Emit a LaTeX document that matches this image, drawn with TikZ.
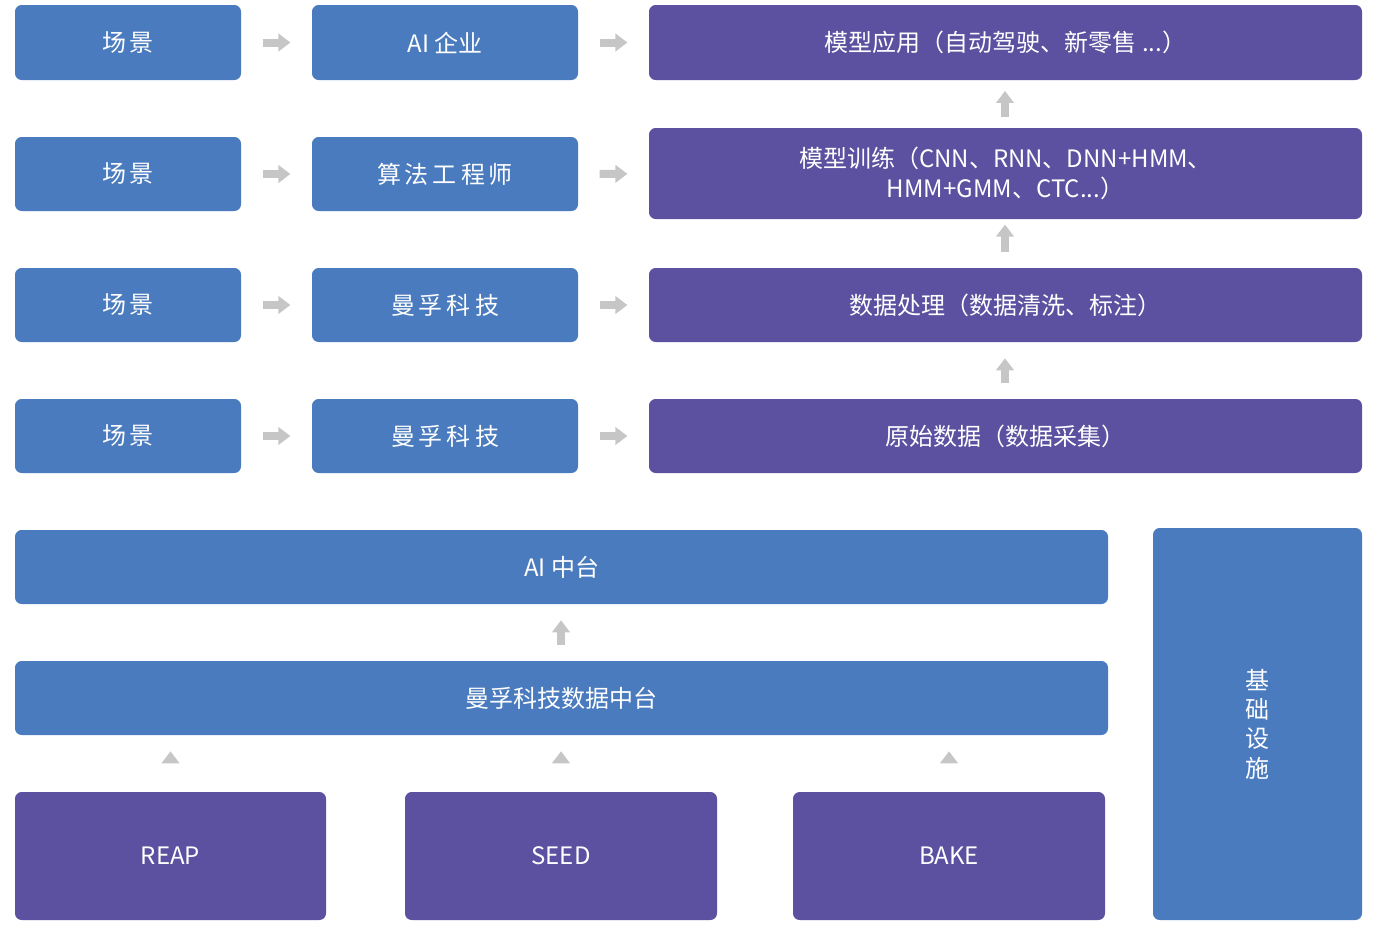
\documentclass[tikz,border=0pt]{standalone}
\usepackage{fontspec}
\setmainfont{Noto Sans CJK SC}
\usetikzlibrary{arrows.meta}
\definecolor{bl}{HTML}{4A7BBE}
\definecolor{pu}{HTML}{5B51A0}
\begin{document}
\begin{tikzpicture}[x=0.75pt,y=-0.75pt,
 bx/.style={draw=none,fill=#1,rounded corners=5pt,text=white,font=\fontsize{18}{22}\selectfont,align=center,inner sep=0pt},
 ar/.style={draw=gray!45,line width=6pt,-{Triangle[length=9pt,width=13pt]}}]
\useasboundingbox (0,0) rectangle (1378,932);
\newcommand{\bxx}[6]{\node[bx=#6,minimum width=(#3-#2)*0.75pt,minimum height=(#5-#4)*0.75pt] (#1) at ({(#2+#3)/2},{(#4+#5)/2}) {};}
\bxx{a1}{15}{241}{5}{80}{bl}\bxx{b1}{312}{578}{5}{80}{bl}\bxx{c1}{649}{1362}{5}{80}{pu}
\bxx{a2}{15}{241}{137}{211}{bl}\bxx{b2}{312}{578}{137}{211}{bl}\bxx{c2}{649}{1362}{128}{219}{pu}
\bxx{a3}{15}{241}{268}{342}{bl}\bxx{b3}{312}{578}{268}{342}{bl}\bxx{c3}{649}{1362}{268}{342}{pu}
\bxx{a4}{15}{241}{399}{473}{bl}\bxx{b4}{312}{578}{399}{473}{bl}\bxx{c4}{649}{1362}{399}{473}{pu}
\bxx{ai}{15}{1108}{530}{604}{bl}\bxx{dt}{15}{1108}{661}{735}{bl}
\bxx{r}{15}{326}{792}{920}{pu}\bxx{s}{405}{717}{792}{920}{pu}\bxx{k}{793}{1105}{792}{920}{pu}
\bxx{j}{1153}{1362}{528}{920}{bl}
\foreach \i in {1,...,4}{\node[text=white,font=\fontsize{18}{22}\selectfont] at (a\i) {场\,景};}
\node[text=white,font=\fontsize{18}{22}\selectfont] at (b1) {AI 企业};
\node[text=white,font=\fontsize{18}{22}\selectfont] at (b2) {算\,法\,工\,程\,师};
\node[text=white,font=\fontsize{18}{22}\selectfont] at (b3) {曼\,孚\,科\,技};
\node[text=white,font=\fontsize{18}{22}\selectfont] at (b4) {曼\,孚\,科\,技};
\node[text=white,font=\fontsize{18}{22}\selectfont] at (c1) {模型应用（自动驾驶、新零售 ...）};
\node[text=white,font=\fontsize{18}{22}\selectfont,align=center] at (c2) {模型训练（CNN、RNN、DNN+HMM、\\HMM+GMM、CTC...）};
\node[text=white,font=\fontsize{18}{22}\selectfont] at (c3) {数据处理（数据清洗、标注）};
\node[text=white,font=\fontsize{18}{22}\selectfont] at (c4) {原始数据（数据采集）};
\node[text=white,font=\fontsize{18}{22}\selectfont] at (ai) {AI 中台};
\node[text=white,font=\fontsize{18}{22}\selectfont] at (dt) {曼孚科技数据中台};
\node[text=white,font=\fontsize{18}{22}\selectfont] at (r) {REAP};
\node[text=white,font=\fontsize{18}{22}\selectfont] at (s) {SEED};
\node[text=white,font=\fontsize{18}{22}\selectfont] at (k) {BAKE};
\node[text=white,font=\fontsize{18}{22}\selectfont,align=center] at (j) {基\\础\\设\\施};
\foreach \i in {1,...,4}{
 \draw[ar,shorten <=16pt,shorten >=16pt] (a\i) -- (b\i);
 \draw[ar,shorten <=16pt,shorten >=16pt] (b\i) -- (c\i);}
\draw[ar,shorten <=8pt,shorten >=8pt] (c2.north -| 1005,0) -- (c1.south -| 1005,0);
\draw[ar,shorten <=12pt,shorten >=4pt] (c3.north -| 1005,0) -- (c2.south -| 1005,0);
\draw[ar,shorten <=12pt,shorten >=12pt] (c4.north -| 1005,0) -- (c3.south -| 1005,0);
\draw[ar,shorten <=12pt,shorten >=12pt] (dt.north -| 561,0) -- (ai.south -| 561,0);
\draw[ar,shorten <=22pt,shorten >=12pt] (r.north) -- (r.north |- dt.south);
\draw[ar,shorten <=22pt,shorten >=12pt] (s.north -| 561,0) -- (dt.south -| 561,0);
\draw[ar,shorten <=22pt,shorten >=12pt] (k.north) -- (k.north |- dt.south);
\end{tikzpicture}
\end{document}
